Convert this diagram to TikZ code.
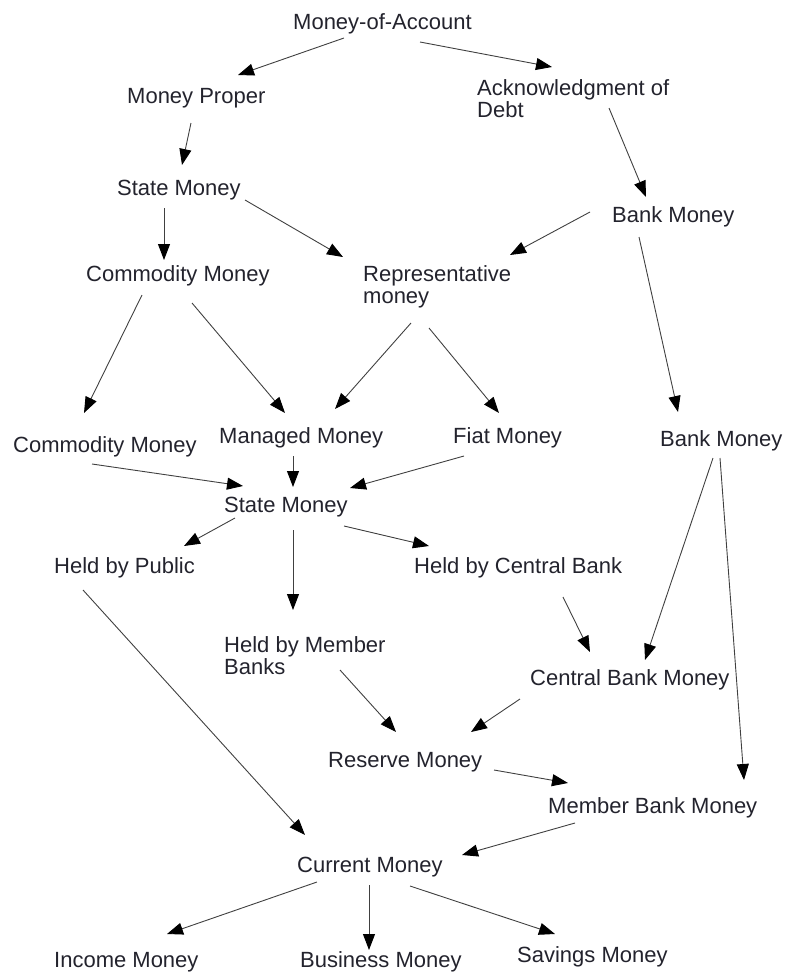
\documentclass[tikz,border=0pt]{standalone}
\usepackage{fontspec}
\setmainfont{Liberation Sans}
\usetikzlibrary{arrows.meta}
\definecolor{ink}{RGB}{35,35,45}

\begin{document}
\begin{tikzpicture}[x=1pt,y=-1pt]
    \tikzstyle{term}=[anchor=base west,inner sep=0pt,align=left,text=ink,font=\fontsize{22}{22}\selectfont]
    \tikzstyle{link}=[draw=black!75,line width=0.9pt,-{Triangle[length=16pt,width=12pt,color=black]}]

    \useasboundingbox (0,0) rectangle (785,972);

    % Draw the kinds of money (two-line ones sit on their last line)
    \foreach \name/\x/\y/\txt in {moa/293/29/Money-of-Account, mp/127/103/Money Proper,
        ack/477/117/{Acknowledgment of\\Debt}, sm1/117/195/State Money, bm1/612/222/Bank Money,
        cm1/86/281/Commodity Money, rep/363/303/{Representative\\money},
        cm2/13/452/Commodity Money, mm/219/443/Managed Money, fm/453/443/Fiat Money,
        bm2/660/446/Bank Money, sm2/224/512/State Money, hp/54/573/Held by Public,
        hcb/414/573/Held by Central Bank, hmb/224/674/{Held by Member\\Banks},
        cbm/530/685/Central Bank Money, rm/328/767/Reserve Money,
        mbm/548/813/Member Bank Money, cur/297/872/Current Money,
        inc/54/967/Income Money, bus/300/967/Business Money, sav/517/962/Savings Money}
        \node[term] (\name) at (\x,\y) {\txt};

    % Connect each kind with the kinds it splits into
    \foreach \a/\ax/\ay/\b/\bx/\by in {
        moa/51/9/mp/111/-28, moa/127/13/ack/75/-50, mp/64/20/sm1/65/-30,
        ack/132/-9/bm1/34/-25, sm1/47/13/cm1/78/-21, sm1/128/5/rep/-20/-46,
        bm1/-22/-10/rep/147/-48, bm1/27/15/bm2/18/-34, cm1/56/14/cm2/71/-39,
        cm1/106/22/mm/66/-30, rep/48/20/mm/116/-34, rep/66/25/fm/46/-30,
        cm2/79/12/sm2/19/-26, mm/74/13/sm2/69/-25, fm/11/13/sm2/126/-24,
        sm2/11/6/hp/130/-27, sm2/69/18/hmb/69/-64, sm2/120/14/hcb/15/-27,
        bm2/53/12/cbm/115/-25, bm2/60/12/mbm/196/-33, hcb/149/24/cbm/60/-33,
        cbm/-10/14/rm/143/-35, hmb/116/-4/rm/68/-35, hp/29/17/cur/8/-37,
        rm/166/3/mbm/20/-30, mbm/27/10/cur/165/-17, cur/20/10/inc/113/-33,
        cur/72/13/bus/69/-17, cur/113/14/sav/38/-28}
        \draw[link] ([shift={(\ax,\ay)}]\a.base west) -- ([shift={(\bx,\by)}]\b.base west);

\end{tikzpicture}
\end{document}
